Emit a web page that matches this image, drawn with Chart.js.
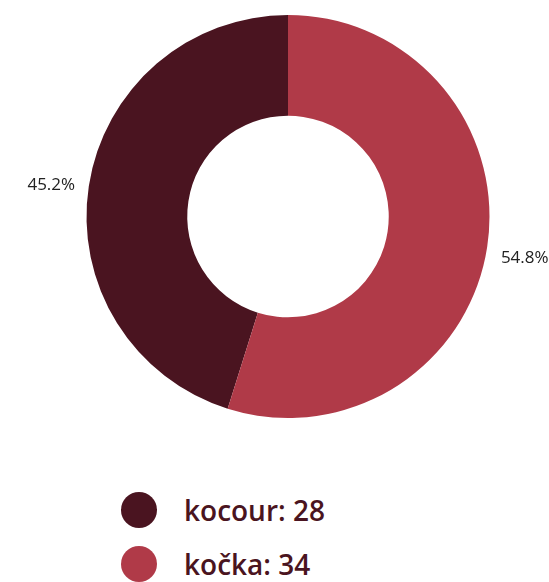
<!DOCTYPE html>
<html>
<head>
<meta charset="utf-8">
<script src="https://cdn.jsdelivr.net/npm/chart.js@4/dist/chart.umd.min.js"></script>
<style>
    body { margin: 0; background: #fff; font-family: 'Open Sans', sans-serif; }
    #wrap { position: relative; width: 549px; height: 440px; }
    #legend { list-style: none; margin: 0; padding: 0; position: absolute; left: 121px; top: 483px; }
    #legend li { display: flex; align-items: center; height: 54px; color: #4a1420; font-size: 28px; font-weight: 600; }
    #legend span.dot { width: 36px; height: 36px; border-radius: 50%; margin-right: 27px; }
</style>
</head>
<body>
<div id="wrap"><canvas id="grafKocky"></canvas></div>
<ul id="legend"></ul>
<script>
// Data
const kategorie = ['kocour', 'kočka'];
const pocty = [28, 34];
const barvy = ['#4a1420', '#b03a48'];

const celkem = pocty.reduce((a, b) => a + b, 0);

// Popisky s procenty vně prstence
const procentaPlugin = {
    id: 'procenta',
    afterDatasetsDraw(chart) {
        const ctx = chart.ctx;
        const meta = chart.getDatasetMeta(0);
        ctx.save();
        ctx.font = '17px "Open Sans"';
        ctx.fillStyle = '#222';
        ctx.textAlign = 'center';
        ctx.textBaseline = 'middle';
        meta.data.forEach((arc, i) => {
            const p = arc.getProps(['x', 'y', 'startAngle', 'endAngle', 'outerRadius']);
            const uhel = (p.startAngle + p.endAngle) / 2;
            const r = p.outerRadius + 38;
            const txt = (pocty[i] / celkem * 100).toFixed(1) + '%';
            ctx.fillText(txt, p.x + Math.cos(uhel) * r, p.y + Math.sin(uhel) * r + 5);
        });
        ctx.restore();
    }
};

new Chart(document.getElementById('grafKocky'), {
    type: 'doughnut',
    data: {
        labels: kategorie,
        datasets: [{
            data: pocty,
            backgroundColor: barvy,
            borderWidth: 0
        }]
    },
    options: {
        responsive: true,
        maintainAspectRatio: false,
        animation: false,
        cutout: '50%',
        // kocour končí nahoře, kočka začíná nahoře po směru hodin
        rotation: -pocty[0] / celkem * 360,
        layout: { padding: { top: 15, bottom: 22, left: 30, right: 3 } },
        plugins: {
            legend: { display: false },
            tooltip: { enabled: false }
        }
    },
    plugins: [procentaPlugin]
});

// Legenda
const legend = document.getElementById('legend');
kategorie.forEach((k, i) => {
    const li = document.createElement('li');
    li.innerHTML = `<span class="dot" style="background:${barvy[i]}"></span>${k}: ${pocty[i]}`;
    legend.appendChild(li);
});
</script>
</body>
</html>
